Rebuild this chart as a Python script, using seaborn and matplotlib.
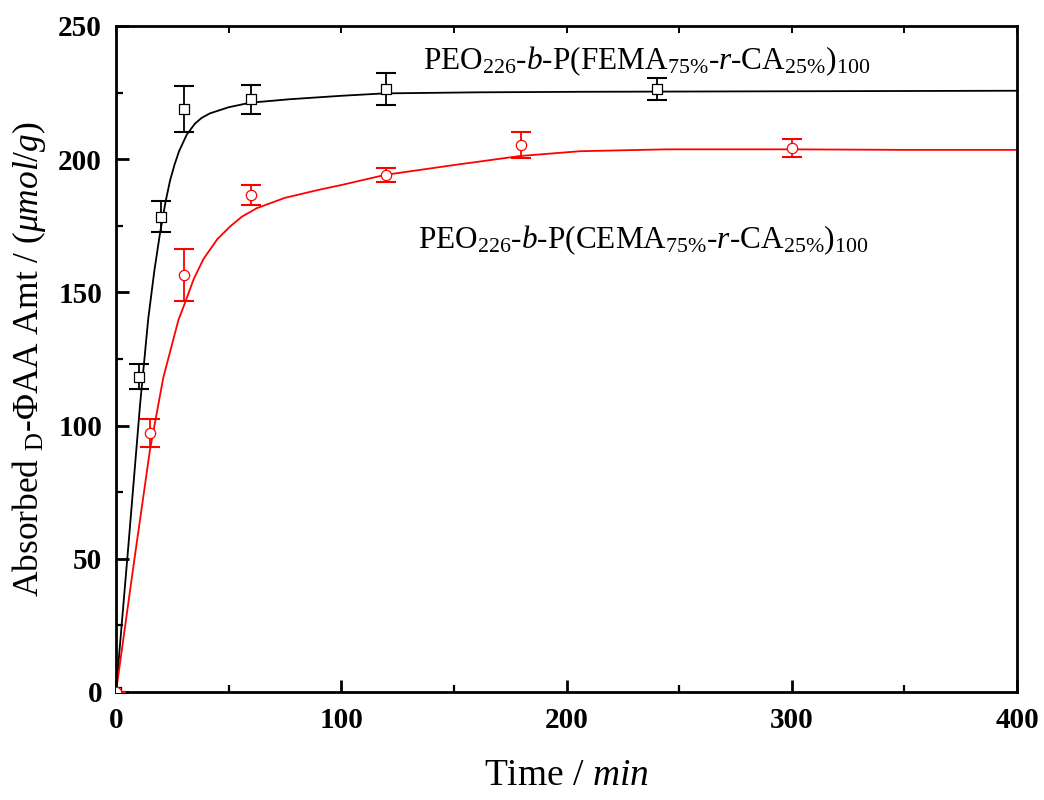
import numpy as np
import pandas as pd
import matplotlib
matplotlib.use("Agg")
import matplotlib.pyplot as plt
from matplotlib.ticker import MultipleLocator
import seaborn as sns

# ---------------- data ----------------
t_fema = [0, 10, 20, 30, 60, 120, 240]
q_fema = [0, 118.4, 178.4, 218.7, 222.5, 226.4, 226.2]
e_fema = [0, 4.7, 5.8, 8.6, 5.5, 5.9, 4.1]

t_cema = [0, 15, 30, 60, 120, 180, 300]
q_cema = [0, 97.1, 156.5, 186.6, 194.1, 205.3, 204.1]
e_cema = [0, 5.3, 9.7, 3.9, 2.6, 4.9, 3.3]

# fitted curves
fit_t_fema = [0, 5.5, 10.7, 14.3, 17, 19.5, 22, 24, 26, 28, 31.4, 35, 38, 41.7, 50,
              59.5, 77, 100, 119, 160, 206, 300, 400]
fit_q_fema = [0, 55, 108, 140, 158, 172, 184, 192, 198, 203, 209.2, 213.3, 215.5,
              217.2, 219.5, 221.2, 222.5, 223.8, 224.7, 225.1, 225.3, 225.5, 225.7]

fit_t_cema = [0, 7.7, 15.1, 21, 27.7, 30.6, 34.5, 38.8, 45, 50.6, 56, 62.5, 75, 90, 100,
              119.4, 150, 179.4, 206, 244.5, 300, 350, 400]
fit_q_cema = [0, 47, 91, 118, 139.6, 146, 155, 162.5, 170, 174.7, 178.5, 181.6, 185.5,
              188.5, 190.3, 194.1, 197.8, 201.2, 203.0, 203.7, 203.7, 203.5, 203.5]

label_fema = r"PEO$_{226}$-$\mathit{b}$-P(FEMA$_{75\%}$-$\mathit{r}$-CA$_{25\%}$)$_{100}$"
label_cema = r"PEO$_{226}$-$\mathit{b}$-P(CEMA$_{75\%}$-$\mathit{r}$-CA$_{25\%}$)$_{100}$"
xlabel = r"Time / $\mathit{min}$"
ylabel = r"Absorbed $_{\mathrm{D}}$-ΦAA Amt / ($\mathit{μmol/g}$)"

x_ticks = [0, 100, 200, 300, 400]
y_ticks = [0, 50, 100, 150, 200, 250]

# ---------------- style ----------------
sns.set_theme(style="ticks")
plt.rcParams.update({
    "font.family": ["Liberation Serif", "DejaVu Serif"],
    "mathtext.fontset": "custom",
    "mathtext.rm": "Liberation Serif",
    "mathtext.it": "Liberation Serif:italic",
    "mathtext.bf": "Liberation Serif:bold",
    "axes.linewidth": 2.0,
    "text.color": "black",
    "axes.labelcolor": "black",
    "xtick.color": "black",
    "ytick.color": "black",
    "axes.edgecolor": "black",
})

fig = plt.figure(figsize=(10.44, 8), dpi=100)
ax = fig.add_axes([116 / 1044, 108 / 800, 901 / 1044, 666 / 800])

# fitted curves
sns.lineplot(x=fit_t_fema, y=fit_q_fema, color="black", linewidth=1.3,
             estimator=None, sort=False, ax=ax, zorder=2)
sns.lineplot(x=fit_t_cema, y=fit_q_cema, color="#ff0000", linewidth=1.3,
             estimator=None, sort=False, ax=ax, zorder=2)

# error bars
ax.errorbar(t_fema, q_fema, yerr=e_fema, fmt="none", ecolor="black",
            elinewidth=1.3, capsize=7, capthick=1.5, zorder=3)
ax.errorbar(t_cema, q_cema, yerr=e_cema, fmt="none", ecolor="#ff0000",
            elinewidth=1.3, capsize=7, capthick=1.5, zorder=3)

# markers
sns.scatterplot(x=t_fema, y=q_fema, marker="s", s=42, facecolor="white",
                edgecolor="black", linewidth=0.9, ax=ax, zorder=4)
sns.scatterplot(x=t_cema, y=q_cema, marker="o", s=55, facecolor="white",
                edgecolor="#ff0000", linewidth=0.9, ax=ax, zorder=4)

ax.set_xlim(0, 400)
ax.set_ylim(0, 250)
ax.set_xticks(x_ticks)
ax.set_yticks(y_ticks)
ax.xaxis.set_minor_locator(MultipleLocator(50))
ax.yaxis.set_minor_locator(MultipleLocator(25))
ax.tick_params(which="major", direction="in", length=9, width=2,
               labelsize=21, top=False, right=False, colors="black",
               labelcolor="black")
ax.tick_params(which="minor", direction="in", length=5, width=1.6,
               top=False, right=False, colors="black")
ax.tick_params(axis="x", which="major", pad=11)
ax.tick_params(axis="y", which="major", pad=10)
for lab in ax.get_xticklabels() + ax.get_yticklabels():
    lab.set_fontweight("bold")
    lab.set_color("black")

# small top ticks every 50
sec = ax.secondary_xaxis("top")
sec.set_xticks(list(range(0, 401, 50)))
sec.tick_params(direction="in", length=5, width=1.4, labeltop=False, colors="black")
sec.spines["top"].set_visible(False)

for sp in ax.spines.values():
    sp.set_linewidth(2.0)
    sp.set_color("black")

ax.set_xlabel(xlabel, fontsize=27, color="black")
ax.set_ylabel(ylabel, fontsize=25.5, color="black")
ax.xaxis.set_label_coords(0.5, -0.100)
ax.yaxis.set_label_coords(-0.075, 0.5)

ax.text(136.3, 233.8, label_fema, fontsize=22.5, ha="left", va="baseline",
        color="black")
ax.text(134.1, 166.7, label_cema, fontsize=22.5, ha="left", va="baseline",
        color="black")

fig.savefig("out.png", dpi=100)
